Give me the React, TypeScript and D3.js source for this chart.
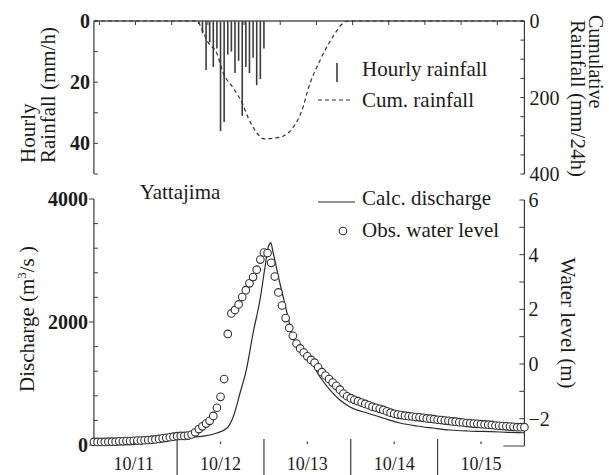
import React from 'react';
import * as d3 from 'd3';

// ---------- data (hours counted from 10/11 00:00) ----------
const rainHours = [30, 31, 32, 33, 34, 35, 36, 37, 38, 39, 40, 41, 42, 43, 44, 45, 46, 47, 48];
const hourlyRain = [1, 4, 16, 7, 15, 9, 36, 33, 11, 10, 17, 13, 31, 15, 17, 12, 21, 19, 9];

const cumHours = [1, 29.5, 31, 32.5, 35, 36.7, 39.5, 42, 43.6, 46, 48, 51, 53.5, 56, 58.5, 60.5, 63.5, 67, 70, 71.2, 120];
const cumRain = [0, 0, 25, 55, 85, 135, 175, 215, 252, 292, 308, 306, 300, 279, 234, 170, 103, 42, 5, 0, 0];

const calcHours = [1, 5.5, 8, 14, 20, 24, 30, 35, 37.8, 39.5, 41.4, 43.3, 45, 46.9, 48.3, 49.2, 49.9, 50.5, 52.4, 54.4, 56, 58, 60.7, 63.5, 66.3, 69, 71.8, 76.5, 80.9, 85.6, 90.3, 94.7, 99.4, 104.1, 108.6, 113.3, 118.8, 120];
const calcDischarge = [0, 0, 60, 85, 100, 114, 135, 195, 276, 455, 845, 1268, 1821, 2358, 2894, 3220, 3285, 3138, 2634, 2146, 1756, 1560, 1382, 1106, 894, 732, 618, 520, 439, 358, 309, 276, 244, 228, 220, 211, 200, 198];

// observed water level, one value per hour from hour 1 to hour 120
const obsLevel = [
  -2.85, -2.85, -2.85, -2.85, -2.84, -2.84, -2.84, -2.83, -2.83, -2.82,
  -2.82, -2.81, -2.80, -2.80, -2.79, -2.78, -2.77, -2.76, -2.74, -2.72,
  -2.70, -2.68, -2.66, -2.64, -2.63, -2.63, -2.62, -2.58, -2.50, -2.38,
  -2.28, -2.18, -2.08, -1.90, -1.60, -1.20, -0.55, 1.10, 1.85, 1.98,
  2.18, 2.45, 2.70, 2.95, 3.18, 3.45, 3.82, 4.08, 4.06, 3.70,
  3.20, 2.62, 2.14, 1.68, 1.32, 1.03, 0.75, 0.57, 0.42, 0.28,
  0.15, 0.05, -0.12, -0.30, -0.42, -0.55, -0.68, -0.80, -0.94, -1.08,
  -1.18, -1.25, -1.31, -1.36, -1.41, -1.46, -1.51, -1.56, -1.60, -1.64,
  -1.68, -1.73, -1.78, -1.82, -1.85, -1.87, -1.89, -1.91, -1.92, -1.94,
  -1.95, -1.97, -1.99, -2.00, -2.02, -2.04, -2.05, -2.07, -2.08, -2.10,
  -2.11, -2.13, -2.14, -2.16, -2.17, -2.18, -2.19, -2.20, -2.21, -2.22,
  -2.23, -2.25, -2.26, -2.27, -2.28, -2.29, -2.30, -2.31, -2.31, -2.31,
];

const dayLabels = ['10/11', '10/12', '10/13', '10/14', '10/15'];
const dayMidHours = [12, 36, 60, 84, 108];
const dayBoundHours = [24, 48, 72, 96];
const topTickHours = [2.5, 12.5, 22.5, 32.5, 42.5, 52.5, 62.5, 72.5, 82.5, 92.5, 102.5, 112.5];

const rainTicks = [0, 10, 20, 30, 40, 50];
const rainLabels = [0, 20, 40];
const cumTicks = [0, 50, 100, 150, 200, 250, 300, 350, 400];
const cumLabels = [0, 200, 400];
const qTicks = [0, 400, 800, 1200, 1600, 2000, 2400, 2800, 3200, 3600, 4000];
const qLabels = [0, 2000, 4000];
const wlTicks = [-3, -2, -1, 0, 1, 2, 3, 4, 5, 6];
const wlLabels = [-2, 0, 2, 4, 6];

// ---------- scales ----------
const x = d3.scaleLinear().domain([0, 120]).range([90.3, 524.4]);
const X0 = x(1);
const X1 = x(120);
const yRain = d3.scaleLinear().domain([0, 50]).range([21, 174]);
const yCum = d3.scaleLinear().domain([0, 400]).range([21, 174]);
const yQ = d3.scaleLinear().domain([0, 4000]).range([445, 199]);
const yWL = d3.scaleLinear().domain([-3, 6]).range([446, 200]);

const FONT = '"Liberation Serif", "Times New Roman", serif';
const INK = '#1c1c1c';
const AX = '#3a3a3a';

export default function App() {
  const cumPath = d3
    .line<number>()
    .x((_, i) => x(cumHours[i]))
    .y((d) => yCum(d))
    .curve(d3.curveMonotoneX)(cumRain) as string;

  const calcPath = d3
    .line<number>()
    .x((_, i) => x(calcHours[i]))
    .y((d) => yQ(d))
    .curve(d3.curveMonotoneX)(calcDischarge) as string;

  const fmtWL = (v: number) => (v < 0 ? '\u2212' + Math.abs(v) : String(v));

  return (
    <svg
      width={609}
      height={475}
      style={{ position: 'fixed', left: 0, top: 0, background: '#fff' }}
      fontFamily={FONT}
      fill={INK}
    >
      <rect x={0} y={0} width={609} height={475} fill="#fff" />

      {/* ================= TOP PANEL ================= */}
      {hourlyRain.map((v, i) => (
        <line
          key={'b' + i}
          x1={x(rainHours[i])}
          x2={x(rainHours[i])}
          y1={yRain(0)}
          y2={yRain(v)}
          stroke="#3c3c3c"
          strokeWidth={1.6}
        />
      ))}
      <line x1={X0} x2={X1} y1={yRain(0)} y2={yRain(0)} stroke="#555" strokeWidth={1.6} />
      {topTickHours.map((h, i) => (
        <line key={'tt' + i} x1={x(h)} x2={x(h)} y1={yRain(0)} y2={yRain(0) + 4} stroke={AX} strokeWidth={1} />
      ))}
      <line x1={X0} x2={X0} y1={yRain(0)} y2={yRain(50)} stroke={AX} strokeWidth={1.2} />
      {rainTicks.map((t) => (
        <line key={'rt' + t} x1={X0} x2={X0 + 4} y1={yRain(t)} y2={yRain(t)} stroke={AX} strokeWidth={1} />
      ))}
      {rainLabels.map((t) => (
        <text key={'rl' + t} x={X0 - 4} y={yRain(t) + 7} fontSize={20} fontWeight="bold" textAnchor="end">
          {t}
        </text>
      ))}
      <line x1={X1} x2={X1} y1={yCum(0)} y2={yCum(400)} stroke={AX} strokeWidth={1.2} />
      {cumTicks.map((t) => (
        <line key={'ct' + t} x1={X1 - 4} x2={X1} y1={yCum(t)} y2={yCum(t)} stroke={AX} strokeWidth={1} />
      ))}
      {cumLabels.map((t) => (
        <text key={'cl' + t} x={X1 + 5} y={yCum(t) + 7} fontSize={20}>
          {t}
        </text>
      ))}
      <path d={cumPath} fill="none" stroke="#333" strokeWidth={1.2} strokeDasharray="4,3" />

      <text transform="translate(35,163) rotate(-90)" fontSize={21}>Hourly</text>
      <text transform="translate(55,163) rotate(-90)" fontSize={21}>Rainfall (mm/h)</text>
      <text transform="translate(589,15) rotate(90)" fontSize={20}>Cumulative</text>
      <text transform="translate(571,20) rotate(90)" fontSize={21}>Rainfall (mm/24h)</text>

      <line x1={337} x2={337} y1={63} y2={82} stroke="#3c3c3c" strokeWidth={1.6} />
      <text x={362} y={76} fontSize={21}>Hourly rainfall</text>
      <line x1={318} x2={353} y1={100} y2={100} stroke="#333" strokeWidth={1.2} strokeDasharray="4,3" />
      <text x={362} y={107} fontSize={21}>Cum. rainfall</text>

      {/* ================= BOTTOM PANEL ================= */}
      <text x={180} y={199} fontSize={21} textAnchor="middle">Yattajima</text>

      <line x1={X0} x2={X0} y1={yQ(0)} y2={yQ(4000)} stroke={AX} strokeWidth={1.2} />
      {qTicks.map((t) =>
        qLabels.includes(t) ? (
          <line key={'qt' + t} x1={X0 - 5} x2={X0} y1={yQ(t)} y2={yQ(t)} stroke={AX} strokeWidth={1} />
        ) : (
          <line key={'qt' + t} x1={X0} x2={X0 + 4} y1={yQ(t)} y2={yQ(t)} stroke={AX} strokeWidth={1} />
        )
      )}
      {qLabels.map((t) => (
        <text key={'ql' + t} x={X0 - 6} y={yQ(t) + 7} fontSize={20} fontWeight="bold" textAnchor="end">
          {t}
        </text>
      ))}

      <line x1={X1} x2={X1} y1={yWL(-3)} y2={yWL(6)} stroke={AX} strokeWidth={1.2} />
      {wlTicks.map((t) => (
        <line
          key={'wt' + t}
          x1={t === -3 ? X1 - 21 : X1 - 5}
          x2={X1}
          y1={yWL(t)}
          y2={yWL(t)}
          stroke={AX}
          strokeWidth={1}
        />
      ))}
      {wlLabels.map((t) => (
        <text key={'wl' + t} x={X1 + 4} y={yWL(t) + 7} fontSize={20}>
          {fmtWL(t)}
        </text>
      ))}

      <path d={calcPath} fill="none" stroke="#2a2a2a" strokeWidth={1.2} />

      {obsLevel.map((v, i) => (
        <circle key={'o' + i} cx={x(i + 1)} cy={yWL(v)} r={3.8} fill="#fff" stroke="#333" strokeWidth={1.1} />
      ))}

      <line x1={318} x2={355} y1={202} y2={202} stroke="#2a2a2a" strokeWidth={1.2} />
      <text x={362} y={205} fontSize={21}>Calc. discharge</text>
      <circle cx={343} cy={231} r={3.8} fill="#fff" stroke="#333" strokeWidth={1.1} />
      <text x={362} y={237} fontSize={21}>Obs. water level</text>

      <text transform="translate(34,319) rotate(-90)" fontSize={21} textAnchor="middle">
        Discharge (m<tspan dy={-8} fontSize={13}>3</tspan>
        <tspan dy={8}>/s )</tspan>
      </text>
      <text transform="translate(561,323) rotate(90)" fontSize={21} textAnchor="middle">
        Water level (m)
      </text>

      {dayBoundHours.map((h) => (
        <line key={'db' + h} x1={x(h)} x2={x(h)} y1={439} y2={475} stroke={AX} strokeWidth={1.2} />
      ))}
      {dayMidHours.map((h) => (
        <line key={'dm' + h} x1={x(h)} x2={x(h)} y1={441.5} y2={444} stroke={AX} strokeWidth={1.2} />
      ))}
      {dayLabels.map((d, i) => (
        <text key={'dl' + i} x={x(dayMidHours[i])} y={470} fontSize={18} textAnchor="middle">
          {d}
        </text>
      ))}
    </svg>
  );
}
